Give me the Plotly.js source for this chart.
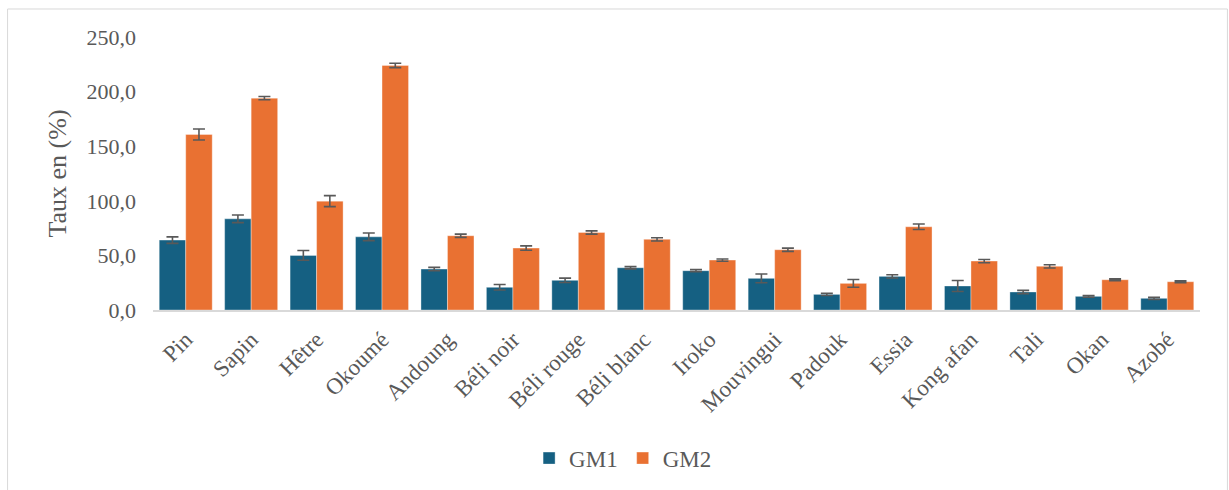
<!DOCTYPE html>
<html>
<head>
<meta charset="utf-8">
<script src="https://cdn.plot.ly/plotly-3.0.1.min.js"></script>
<style>html,body{margin:0;padding:0;background:#fff}#chart{width:1229px;height:490px}</style>
</head>
<body>
<div id="chart"></div>
<script>
const categories = ["Pin","Sapin","Hêtre","Okoumé","Andoung","Béli noir","Béli rouge","Béli blanc","Iroko","Mouvingui","Padouk","Essia","Kong afan","Tali","Okan","Azobé"];
const gm1 = [64.0, 83.5, 50.0, 67.0, 37.5, 20.8, 27.2, 38.7, 36.0, 29.0, 14.3, 30.8, 22.0, 16.5, 12.5, 10.7];
const gm1Err = [3.0, 3.5, 4.5, 3.5, 1.5, 2.5, 2.0, 1.0, 1.0, 4.0, 1.0, 1.5, 5.0, 1.5, 0.8, 1.0];
const gm2 = [160.7, 194.0, 99.7, 224.0, 68.0, 56.7, 71.0, 64.7, 45.7, 55.2, 24.4, 76.2, 44.8, 40.0, 27.7, 25.9];
const gm2Err = [5.0, 1.5, 5.0, 2.0, 1.5, 2.0, 1.5, 1.5, 1.0, 1.5, 3.5, 2.5, 1.5, 1.5, 0.8, 0.8];
const yTicks = [0, 50, 100, 150, 200, 250];
const yTickText = ["0,0", "50,0", "100,0", "150,0", "200,0", "250,0"];

const font = "Liberation Serif";
const grey = "#595959";
const errStyle = (arr) => ({type: "data", array: arr, visible: true, color: grey, thickness: 1.6, width: 6});

const traces = [
  {type: "bar", name: "GM1", x: categories, y: gm1, error_y: errStyle(gm1Err),
   marker: {color: "#156082", line: {color: "rgba(255,255,255,0.35)", width: 1}}},
  {type: "bar", name: "GM2", x: categories, y: gm2, error_y: errStyle(gm2Err),
   marker: {color: "#E97132", line: {color: "rgba(255,255,255,0.35)", width: 1}}}
];

const layout = {
  width: 1229, height: 490,
  margin: {l: 153, r: 29, t: 37, b: 180},
  paper_bgcolor: "#fff", plot_bgcolor: "#fff",
  font: {family: font, color: grey, size: 22},
  barmode: "group", bargap: 0.19, bargroupgap: 0,
  showlegend: true,
  legend: {orientation: "h", xref: "container", yref: "container", x: 0.507, xanchor: "center", y: 0.065, yanchor: "middle",
           font: {family: font, size: 23, color: grey}, itemwidth: 30},
  xaxis: {type: "category", tickangle: -45, showline: true, linecolor: "#d9d9d9", linewidth: 2,
          ticks: "", showgrid: false, ticklabelstandoff: 5, tickfont: {family: font, size: 23, color: grey}},
  yaxis: {range: [0, 250], tickvals: yTicks, ticktext: yTickText, showgrid: false, zeroline: false,
          showline: false, ticks: "", ticklabelstandoff: 16, tickfont: {family: font, size: 22, color: grey},
          title: {text: "Taux en (%)", font: {family: font, size: 26, color: grey}, standoff: 12}},
  shapes: [{type: "rect", xref: "paper", yref: "paper", x0: -0.1389, x1: 1.0262, y0: -0.70, y1: 1.1026,
            line: {color: "#d9d9d9", width: 1}, fillcolor: "rgba(0,0,0,0)", layer: "below"}]
};

Plotly.newPlot("chart", traces, layout, {staticPlot: true, displayModeBar: false});
</script>
</body>
</html>
